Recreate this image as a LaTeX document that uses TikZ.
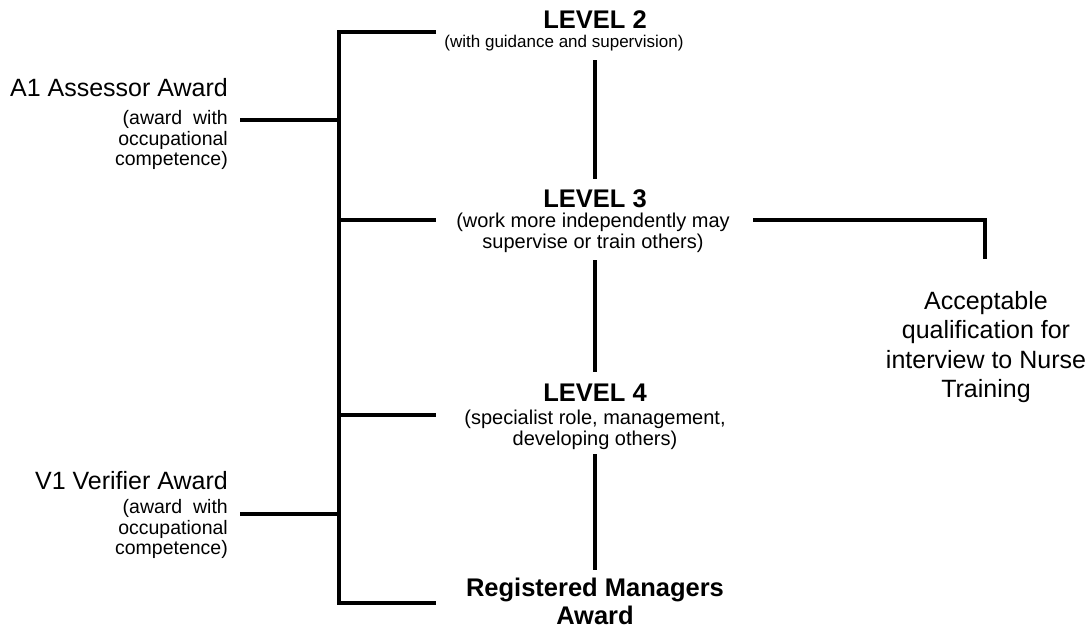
\documentclass[tikz,border=0pt]{standalone}
\usepackage{fontspec}
\setmainfont{Liberation Sans}
\begin{document}
\begin{tikzpicture}[x=1pt,y=-1pt,
  conn/.style={line width=4pt,line cap=butt},
  lvl/.style={inner sep=0pt,font=\bfseries\fontsize{25.5}{28}\selectfont,align=center},
  sub/.style={inner sep=0pt,font=\fontsize{20}{21.5}\selectfont,align=center},
  subsmall/.style={inner sep=0pt,font=\fontsize{17}{20}\selectfont,align=center},
  ltitle/.style={inner sep=0pt,anchor=east,font=\fontsize{25}{29}\selectfont,align=right},
  lsub/.style={inner sep=0pt,anchor=east,font=\fontsize{19.5}{20.5}\selectfont,align=right},
  rtext/.style={inner sep=0pt,font=\fontsize{25}{29.5}\selectfont,align=center}]
\useasboundingbox (0,0) rectangle (1089,630);
% centre column
\node[lvl] (l2) at (595,20) {LEVEL 2};
\node[subsmall] (l2s) at (564,43) {(with guidance and supervision)};
\node[lvl] (l3) at (595,199) {LEVEL 3};
\node[sub] (l3s) at (593,233) {(work more independently may\\supervise or train others)};
\node[lvl] (l4) at (595,393) {LEVEL 4};
\node[sub] (l4s) at (595,430) {(specialist role, management,\\developing others)};
\node[lvl] (rma) at (595,601) {Registered Managers\\Award};
% left labels
\node[ltitle] (a1) at (228,88) {A1 Assessor Award};
\node[lsub] (a1s) at (228,140) {(award\ \ with\\occupational\\competence)};
\node[ltitle] (v1) at (228,481) {V1 Verifier Award};
\node[lsub] (v1s) at (228,529) {(award\ \ with\\occupational\\competence)};
% right label
\node[rtext] (nt) at (986,347) {Acceptable\\qualification for\\interview to Nurse\\Training};
% coordinates of the bracket
\coordinate (bt) at (339,32);
\coordinate (bb) at (339,603);
\coordinate (t2) at (436,32);
\coordinate (b3) at (339,220);
\coordinate (t3) at (436,220);
\coordinate (b4) at (339,415);
\coordinate (t4) at (436,415);
\coordinate (tr) at (436,603);
\coordinate (ba1) at (339,120);
\coordinate (ea1) at (240,120);
\coordinate (bv1) at (339,514);
\coordinate (ev1) at (240,514);
\coordinate (r3) at (753,220);
\coordinate (rc) at (985,220);
\coordinate (rd) at (985,259);
\coordinate (v2a) at (595,60);
\coordinate (v2b) at (595,179);
\coordinate (v3a) at (595,260);
\coordinate (v3b) at (595,372);
\coordinate (v4a) at (595,454);
\coordinate (v4b) at (595,570);
% connectors
\draw[conn] (t2) -- (bt) -- (bb) -- (tr);
\draw[conn] (b3) -- (t3);
\draw[conn] (b4) -- (t4);
\draw[conn] (ea1) -- (ba1);
\draw[conn] (ev1) -- (bv1);
\draw[conn] (r3) -- (rc) -- (rd);
\draw[conn] (v2a) -- (v2b);
\draw[conn] (v3a) -- (v3b);
\draw[conn] (v4a) -- (v4b);
\end{tikzpicture}
\end{document}
